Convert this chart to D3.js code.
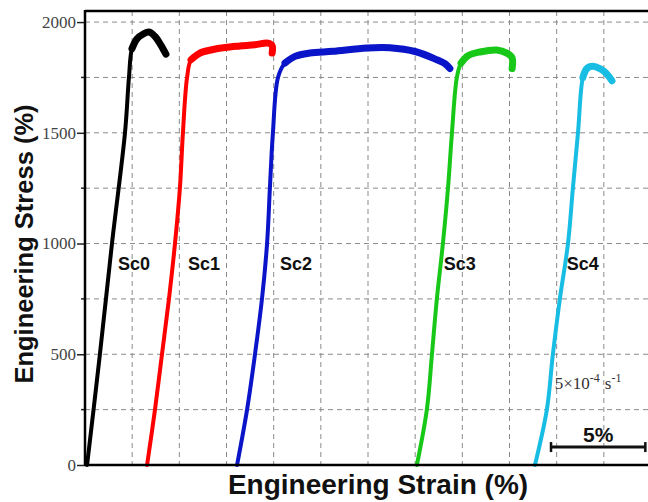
<!DOCTYPE html>
<html>
<head>
<meta charset="utf-8">
<script src="https://cdn.jsdelivr.net/npm/d3@7"></script>
<style>
  body { margin: 0; background: #fff; }
  svg { display: block; }
</style>
</head>
<body>
<script>
const width = 648;
const height = 502;

// curve data: strain (%) and stress
const seriesNames = ['Sc0', 'Sc1', 'Sc2', 'Sc3', 'Sc4'];
const sc0Strain = [0.11, 0.79, 1.43, 2.12, 2.33, 2.49, 2.76, 3.07, 3.39, 3.71, 4.03, 4.29];
const sc0Stress = [0, 500, 1000, 1500, 1750, 1880, 1925, 1945, 1955, 1935, 1895, 1855];
const sc1Strain = [3.29, 3.71, 4.08, 4.45, 4.77, 5.03, 5.19, 5.41, 5.62, 6.09, 6.73, 7.42, 8.21, 9.01, 9.70, 9.91, 9.92];
const sc1Stress = [0, 250, 500, 750, 1000, 1250, 1500, 1750, 1830, 1860, 1875, 1885, 1892, 1898, 1905, 1895, 1860];
const sc2Strain = [8.06, 8.59, 9.01, 9.38, 9.65, 9.80, 9.96, 10.23, 10.60, 11.13, 11.92, 13.14, 14.94, 16.16, 17.54, 18.65, 19.08, 19.34];
const sc2Stress = [0, 250, 500, 750, 1000, 1250, 1500, 1750, 1815, 1845, 1860, 1868, 1883, 1884, 1866, 1830, 1812, 1790];
const sc3Strain = [17.59, 18.12, 18.39, 18.65, 18.97, 19.24, 19.45, 19.71, 19.93, 20.30, 20.93, 21.83, 22.36, 22.63, 22.64];
const sc3Stress = [0, 250, 500, 750, 1000, 1250, 1500, 1750, 1815, 1848, 1865, 1874, 1860, 1840, 1790];
const sc4Strain = [23.85, 24.48, 24.80, 25.17, 25.60, 25.86, 26.13, 26.39, 26.60, 26.92, 27.29, 27.61, 27.93];
const sc4Stress = [0, 250, 500, 750, 1000, 1250, 1500, 1750, 1790, 1800, 1790, 1770, 1735];

const yTicks = [0, 500, 1000, 1500, 2000];
const yMinorTicks = [250, 750, 1250, 1750];
const xGrid = [2.5, 5, 7.5, 10, 12.5, 15, 17.5, 20, 22.5, 25, 27.5];
const yGrid = [250, 500, 750, 1000, 1250, 1500, 1750, 2000];

// label spots in data units
const labelStrain = [1.75, 5.46, 10.33, 19.02, 25.54];
const labelStress = 880;

const colors = ['#000000', '#ff0000', '#0a14c8', '#18c818', '#18bde4'];

const strains = [sc0Strain, sc1Strain, sc2Strain, sc3Strain, sc4Strain];
const stresses = [sc0Stress, sc1Stress, sc2Stress, sc3Stress, sc4Stress];

const plotLeft = 85, plotRight = 651, plotTop = 11, plotBottom = 465;

const xScale = d3.scaleLinear().domain([0, 30]).range([plotLeft, plotRight]);
const yScale = d3.scaleLinear().domain([0, 2050]).range([plotBottom, plotTop]);

const svg = d3.select('body').append('svg')
  .attr('width', width)
  .attr('height', height);

svg.append('rect').attr('width', width).attr('height', height).attr('fill', '#fff');

// dashed grid
svg.append('g').selectAll('line').data(xGrid).enter().append('line')
  .attr('x1', d => xScale(d)).attr('x2', d => xScale(d))
  .attr('y1', plotTop).attr('y2', plotBottom)
  .attr('stroke', '#8a8a8a').attr('stroke-width', 1)
  .attr('stroke-dasharray', '5,4');
svg.append('g').selectAll('line').data(yGrid).enter().append('line')
  .attr('x1', plotLeft).attr('x2', width)
  .attr('y1', d => yScale(d)).attr('y2', d => yScale(d))
  .attr('stroke', '#8a8a8a').attr('stroke-width', 1)
  .attr('stroke-dasharray', '5,4');

// curves
const line = d3.line()
  .x(d => xScale(d[0]))
  .y(d => yScale(d[1]))
  .curve(d3.curveCatmullRom.alpha(0.5));

strains.forEach((xs, i) => {
  const pts = xs.map((s, j) => [s, stresses[i][j]]);
  const peak = d3.max(stresses[i]);
  const k = stresses[i].findIndex(v => v >= peak * 0.96);
  svg.append('path')
    .attr('d', line(pts))
    .attr('fill', 'none')
    .attr('stroke', colors[i])
    .attr('stroke-width', 4)
    .attr('stroke-linejoin', 'round')
    .attr('stroke-linecap', 'round');
  // noisy plastic part looks thicker
  svg.append('path')
    .attr('d', line(pts.slice(k)))
    .attr('fill', 'none')
    .attr('stroke', colors[i])
    .attr('stroke-width', 7)
    .attr('stroke-linejoin', 'round')
    .attr('stroke-linecap', 'round');
});

// frame: top border and axes
svg.append('line')
  .attr('x1', plotLeft).attr('x2', width)
  .attr('y1', plotTop).attr('y2', plotTop)
  .attr('stroke', '#000').attr('stroke-width', 2.5);

svg.append('line')
  .attr('x1', plotLeft).attr('x2', width)
  .attr('y1', plotBottom).attr('y2', plotBottom)
  .attr('stroke', '#000').attr('stroke-width', 2.5);

const yAxis = d3.axisLeft(yScale)
  .tickValues(yTicks)
  .tickSize(8)
  .tickPadding(1)
  .tickFormat(d3.format('d'));

const gy = svg.append('g')
  .attr('transform', `translate(${plotLeft}, 0)`)
  .call(yAxis);
gy.select('.domain').remove();
gy.selectAll('.tick line').attr('stroke', '#222').attr('stroke-width', 1.5);
gy.selectAll('.tick text')
  .attr('font-family', '"Liberation Serif", "Times New Roman", serif')
  .attr('font-size', 17)
  .attr('fill', '#444');

svg.append('g').selectAll('line').data(yMinorTicks).enter().append('line')
  .attr('x1', plotLeft - 4).attr('x2', plotLeft)
  .attr('y1', d => yScale(d)).attr('y2', d => yScale(d))
  .attr('stroke', '#222').attr('stroke-width', 1.5);

svg.append('line')
  .attr('x1', plotLeft).attr('x2', plotLeft)
  .attr('y1', plotTop - 1).attr('y2', plotBottom + 1)
  .attr('stroke', '#000').attr('stroke-width', 2.5);

// curve labels
svg.append('g').selectAll('text').data(seriesNames).enter().append('text')
  .attr('x', (d, i) => xScale(labelStrain[i]))
  .attr('y', yScale(labelStress))
  .attr('font-family', '"Liberation Sans", Arial, sans-serif')
  .attr('font-weight', 'bold')
  .attr('font-size', 18)
  .attr('fill', '#111')
  .text(d => d);

// strain rate note
const rate = svg.append('text')
  .attr('x', xScale(24.9))
  .attr('y', yScale(345))
  .attr('font-family', '"Liberation Serif", "Times New Roman", serif')
  .attr('font-size', 17)
  .attr('fill', '#333');
rate.append('tspan').text('5×10');
rate.append('tspan').attr('dy', -7).attr('font-size', 12).text('-4');
rate.append('tspan').attr('dy', 7).attr('dx', 5).text('s');
rate.append('tspan').attr('dy', -7).attr('font-size', 12).text('-1');

// 5% scale bar
const barFrom = 24.7, barTo = 29.7, barStress = 81;
svg.append('line')
  .attr('x1', xScale(barFrom)).attr('x2', xScale(barTo))
  .attr('y1', yScale(barStress)).attr('y2', yScale(barStress))
  .attr('stroke', '#111').attr('stroke-width', 3);
[barFrom, barTo].forEach(s => {
  svg.append('line')
    .attr('x1', xScale(s)).attr('x2', xScale(s))
    .attr('y1', yScale(barStress) - 5).attr('y2', yScale(barStress) + 5)
    .attr('stroke', '#111').attr('stroke-width', 2.5);
});
svg.append('text')
  .attr('x', xScale((barFrom + barTo) / 2))
  .attr('y', yScale(barStress) - 5)
  .attr('text-anchor', 'middle')
  .attr('font-family', '"Liberation Sans", Arial, sans-serif')
  .attr('font-weight', 'bold')
  .attr('font-size', 21)
  .attr('fill', '#111')
  .text('5%');

// axis titles
svg.append('text')
  .attr('x', 378)
  .attr('y', 494)
  .attr('text-anchor', 'middle')
  .attr('font-family', '"Liberation Sans", Arial, sans-serif')
  .attr('font-weight', 'bold')
  .attr('font-size', 28)
  .attr('fill', '#111')
  .text('Engineering Strain (%)');

svg.append('text')
  .attr('transform', 'translate(33, 244) rotate(-90)')
  .attr('text-anchor', 'middle')
  .attr('font-family', '"Liberation Sans", Arial, sans-serif')
  .attr('font-weight', 'bold')
  .attr('font-size', 25.5)
  .attr('fill', '#111')
  .text('Engineering Stress (%)');
</script>
</body>
</html>
